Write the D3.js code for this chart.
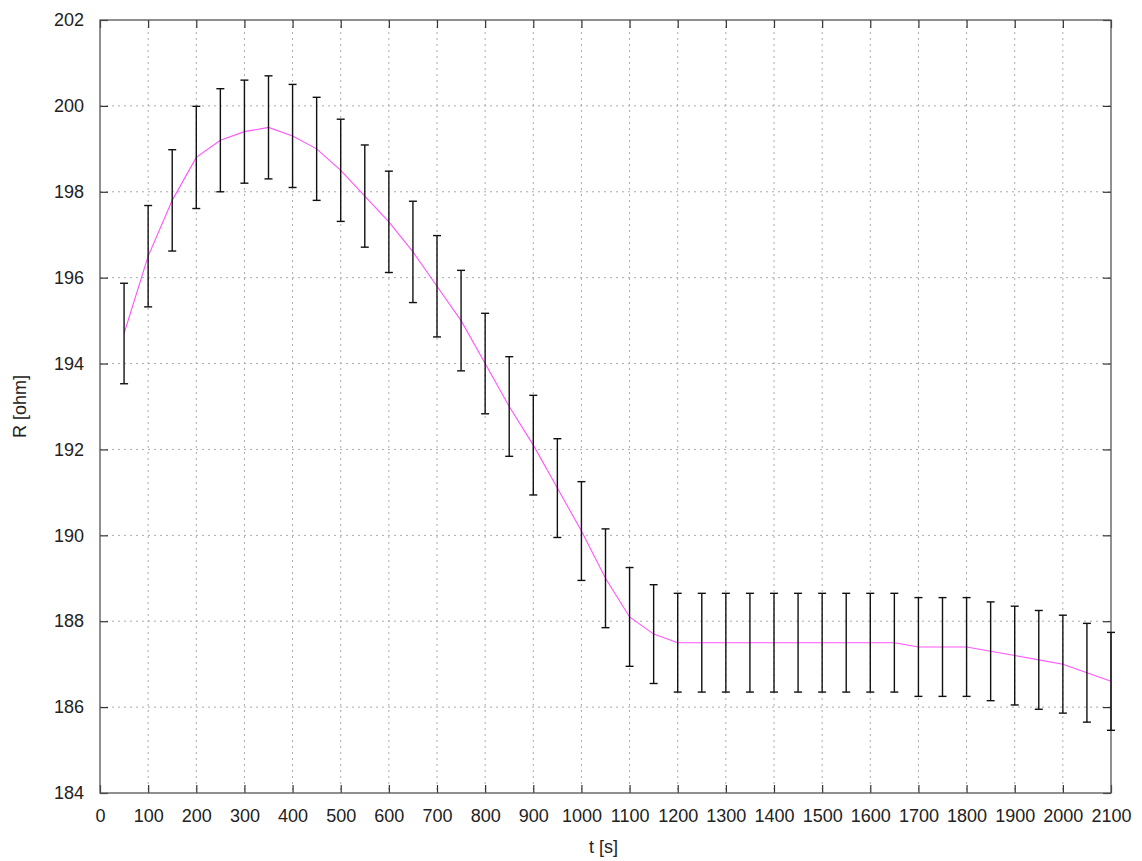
<!DOCTYPE html>
<html>
<head>
<meta charset="utf-8">
<script src="https://cdn.jsdelivr.net/npm/d3@7"></script>
<style>
  body { margin: 0; background: #fff; }
  svg text { font-family: "Liberation Sans", Arial, sans-serif; fill: #222; }
</style>
</head>
<body>
<svg id="chart"></svg>
<script>
const width = 1142;
const height = 861;

// time [s]
const times = [50, 100, 150, 200, 250, 300, 350, 400, 450, 500, 550, 600, 650, 700,
  750, 800, 850, 900, 950, 1000, 1050, 1100, 1150, 1200, 1250, 1300, 1350, 1400,
  1450, 1500, 1550, 1600, 1650, 1700, 1750, 1800, 1850, 1900, 1950, 2000, 2050, 2100];
// resistance [ohm]
const resist = [194.7, 196.5, 197.8, 198.8, 199.2, 199.4, 199.5, 199.3, 199.0, 198.5,
  197.9, 197.3, 196.6, 195.8, 195.0, 194.0, 193.0, 192.1, 191.1, 190.1, 189.0, 188.1,
  187.7, 187.5, 187.5, 187.5, 187.5, 187.5, 187.5, 187.5, 187.5, 187.5, 187.5, 187.4,
  187.4, 187.4, 187.3, 187.2, 187.1, 187.0, 186.8, 186.6];
// error half width [ohm]
const errors = [1.17, 1.18, 1.18, 1.19, 1.2, 1.2, 1.2, 1.2, 1.2, 1.19, 1.19, 1.18,
  1.18, 1.18, 1.17, 1.17, 1.16, 1.16, 1.15, 1.15, 1.15, 1.15, 1.15, 1.15, 1.15, 1.15,
  1.15, 1.15, 1.15, 1.15, 1.15, 1.15, 1.15, 1.15, 1.15, 1.15, 1.15, 1.15, 1.15, 1.14,
  1.15, 1.14];
const xTicks = d3.range(0, 2101, 100);
const yTicks = d3.range(184, 203, 2);

const data = times.map((t, i) => ({ t: t, r: resist[i], e: errors[i] }));

const margin = { top: 20, right: 31, bottom: 68, left: 100 };
const iw = width - margin.left - margin.right;
const ih = height - margin.top - margin.bottom;

const x = d3.scaleLinear().domain([0, 2100]).range([0, iw]);
const y = d3.scaleLinear().domain([184, 202]).range([ih, 0]);

const svg = d3.select('#chart').attr('width', width).attr('height', height);
const g = svg.append('g').attr('transform', `translate(${margin.left},${margin.top})`);

// grid
g.append('g').selectAll('line').data(xTicks.slice(1, -1)).enter().append('line')
  .attr('x1', d => x(d)).attr('x2', d => x(d)).attr('y1', 0).attr('y2', ih)
  .attr('stroke', '#aaa').attr('stroke-dasharray', '2,4');
g.append('g').selectAll('line').data(yTicks.slice(1, -1)).enter().append('line')
  .attr('y1', d => y(d)).attr('y2', d => y(d)).attr('x1', 0).attr('x2', iw)
  .attr('stroke', '#aaa').attr('stroke-dasharray', '2,4');

// axes with inward ticks
const tickLen = 8;
const fmt = d3.format('d');
const axBottom = g.append('g').attr('transform', `translate(0,${ih})`)
  .call(d3.axisBottom(x).tickValues(xTicks).tickFormat(fmt).tickSizeInner(-tickLen).tickSizeOuter(0).tickPadding(16));
const axLeft = g.append('g')
  .call(d3.axisLeft(y).tickValues(yTicks).tickFormat(fmt).tickSizeInner(-tickLen).tickSizeOuter(0).tickPadding(16));
const axTop = g.append('g')
  .call(d3.axisTop(x).tickValues(xTicks).tickSizeInner(-tickLen).tickSizeOuter(0).tickFormat(''));
const axRight = g.append('g').attr('transform', `translate(${iw},0)`)
  .call(d3.axisRight(y).tickValues(yTicks).tickSizeInner(-tickLen).tickSizeOuter(0).tickFormat(''));

[axBottom, axLeft, axTop, axRight].forEach(a => {
  a.select('.domain').remove();
  a.selectAll('.tick line').attr('stroke', '#333').attr('stroke-width', 1.2);
  a.selectAll('.tick text').style('font-size', '18px').attr('fill', '#222');
});

g.append('rect').attr('width', iw).attr('height', ih)
  .attr('fill', 'none').attr('stroke', '#555').attr('stroke-width', 1.3);

// line
const line = d3.line().x(d => x(d.t)).y(d => y(d.r));
g.append('path').datum(data).attr('d', line)
  .attr('fill', 'none').attr('stroke', '#ff55ff').attr('stroke-width', 1.1);

// error bars
const cap = 4;
const bars = g.append('g').selectAll('g').data(data).enter().append('g')
  .attr('stroke', '#111').attr('stroke-width', 1.4);
bars.append('line')
  .attr('x1', d => x(d.t)).attr('x2', d => x(d.t))
  .attr('y1', d => y(d.r - d.e)).attr('y2', d => y(d.r + d.e));
bars.append('line')
  .attr('x1', d => x(d.t) - cap).attr('x2', d => x(d.t) + cap)
  .attr('y1', d => y(d.r + d.e)).attr('y2', d => y(d.r + d.e));
bars.append('line')
  .attr('x1', d => x(d.t) - cap).attr('x2', d => x(d.t) + cap)
  .attr('y1', d => y(d.r - d.e)).attr('y2', d => y(d.r - d.e));

// axis titles
svg.append('text').attr('x', margin.left + iw / 2 - 2).attr('y', 853)
  .attr('text-anchor', 'middle').style('font-size', '18px').text('t [s]');
svg.append('text').attr('transform', `translate(26,${margin.top + ih / 2}) rotate(-90)`)
  .attr('text-anchor', 'middle').style('font-size', '18px').text('R [ohm]');
</script>
</body>
</html>
